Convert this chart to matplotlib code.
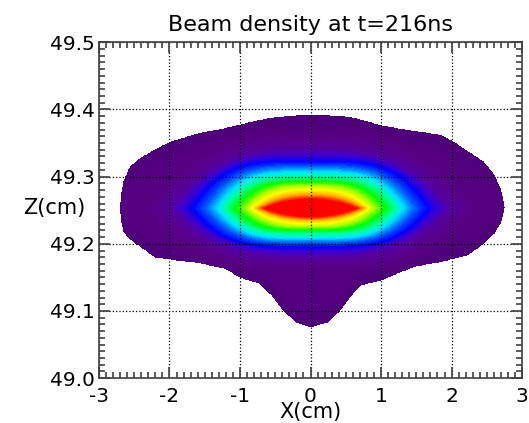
# Beam density map at t = 216 ns, filled contours in the X-Z plane.

# Import libraries
import numpy as np
import matplotlib
matplotlib.use("Agg")
import matplotlib.pyplot as plt
from matplotlib.colors import LinearSegmentedColormap
from matplotlib.ticker import MultipleLocator, FormatStrFormatter

# Beam envelope (outer edge of the density map), cm
x_edge = [-2.70, -2.66, -2.56, -2.40, -2.20, -2.00, -1.60, -1.20, -1.00, -0.72, -0.55, -0.39, -0.19,
          0.00, 0.23, 0.42, 0.56, 0.70, 1.00, 1.27, 1.50, 1.84, 2.02, 2.22, 2.45, 2.60, 2.70, 2.75]
z_top = [49.255, 49.290, 49.314, 49.328, 49.340, 49.351, 49.364, 49.372, 49.377, 49.384, 49.387, 49.389, 49.391,
         49.392, 49.391, 49.390, 49.388, 49.385, 49.376, 49.371, 49.367, 49.362, 49.352, 49.338, 49.322, 49.303, 49.280, 49.255]
z_bot = [49.252, 49.220, 49.207, 49.195, 49.180, 49.177, 49.172, 49.163, 49.150, 49.141, 49.124, 49.101, 49.083,
         49.076, 49.083, 49.101, 49.121, 49.138, 49.146, 49.158, 49.167, 49.173, 49.178, 49.183, 49.200, 49.215, 49.232, 49.254]

# Density levels of the core and their extents:
# half width along X at the beam centre, and height above / below it (cm)
z_center = 49.253
core_dens = [1.00, 0.94, 0.88, 0.80, 0.74, 0.67, 0.60, 0.53, 0.47, 0.40, 0.34, 0.27, 0.20, 0.10, 0.04, 0.00]
core_half_x = [0.00, 0.64, 0.71, 0.77, 0.82, 0.91, 1.05, 1.21, 1.31, 1.47, 1.66, 1.80, 1.98, 2.30, 2.60, 2.80]
core_up = [0.000, 0.013, 0.017, 0.022, 0.027, 0.033, 0.039, 0.046, 0.053, 0.061, 0.069, 0.077, 0.087, 0.106, 0.120, 0.130]
core_down = [0.000, 0.012, 0.015, 0.018, 0.022, 0.027, 0.032, 0.038, 0.044, 0.050, 0.057, 0.063, 0.073, 0.090, 0.102, 0.110]
# flatness of each density contour (exponent of the top edge)
core_shape = [2.0, 2.0, 2.2, 2.5, 2.8, 3.2, 3.6, 4.0, 4.0, 4.0, 4.0, 3.5, 3.0, 3.0, 3.0, 3.0]

# Low density halo filling the envelope
halo_amp = 0.07
halo_width = 0.03

# Colour table for the density
cmap_pos = [0.00, 0.12, 0.20, 0.27, 0.34, 0.40, 0.47, 0.53, 0.60, 0.67, 0.74, 0.84, 0.94, 1.00]
cmap_col = ["#4e0078", "#580088", "#5500a2", "#3800d4", "#0000ff", "#0064ff", "#00e6ff", "#00ffa0",
            "#00ff00", "#a8ff00", "#ffff00", "#ffa000", "#ff0000", "#ff0000"]
beam_cmap = LinearSegmentedColormap.from_list("beam", list(zip(cmap_pos, cmap_col)))

# Build the density field on a fine grid
x = np.linspace(-3, 3, 721)
z = np.linspace(49.0, 49.5, 601)
X, Z = np.meshgrid(x, z)
top = np.interp(X, x_edge, z_top, left = 0, right = 0)
bot = np.interp(X, x_edge, z_bot, left = 100, right = 100)
dist = np.minimum(top - Z, Z - bot)
dz = Z - z_center
ax_x = np.abs(X)

# Core: each point takes the highest level whose contour encloses it
core = np.zeros_like(X)
dens_inc = core_dens[::-1]
for lev in np.arange(0.005, 1.0, 0.005):
    w = np.interp(lev, dens_inc, core_half_x[::-1])
    hu = np.interp(lev, dens_inc, core_up[::-1])
    hd = np.interp(lev, dens_inc, core_down[::-1])
    m = np.interp(lev, dens_inc, core_shape[::-1])
    edge = 1 - np.clip(ax_x / w, 0, 1) ** m
    inside = np.where(dz >= 0, dz <= hu * edge, -dz <= hd * edge) & (ax_x < w)
    core[inside] = lev

halo = halo_amp * np.clip(dist / halo_width, 0, 1)
density = np.where(dist > 0, np.maximum(core, halo), np.nan)

# Plot
fig = plt.figure(figsize = (5.29, 4.23), dpi = 100)
ax = fig.add_axes([0.187, 0.106, 0.800, 0.794])
levels = np.linspace(-0.001, 1.0, 80)
ax.contourf(X, Z, density, levels = levels, cmap = beam_cmap)

ax.set_xlim(-3, 3)
ax.set_ylim(49.0, 49.5)
ax.xaxis.set_major_locator(MultipleLocator(1))
ax.xaxis.set_minor_locator(MultipleLocator(0.1))
ax.yaxis.set_major_locator(MultipleLocator(0.1))
ax.yaxis.set_minor_locator(MultipleLocator(0.01))
ax.yaxis.set_major_formatter(FormatStrFormatter("%.1f"))
ax.xaxis.set_major_formatter(FormatStrFormatter("%d"))
ax.tick_params(which = "both", direction = "in", top = True, right = True, color = "0.25")
ax.tick_params(which = "major", length = 8, width = 1.2, labelsize = 14.5)
ax.tick_params(axis = "x", which = "major", pad = 6.5)
ax.tick_params(axis = "y", which = "major", pad = 3)
ax.tick_params(which = "minor", length = 4, width = 1.2)
for s in ax.spines.values():
    s.set_linewidth(1.2)
    s.set_color("0.25")
ax.grid(True, which = "major", color = "k", linestyle = ":", linewidth = 0.9)

ax.set_title("Beam density at t=216ns", fontsize = 16, pad = 8)
ax.set_xlabel("X(cm)", fontsize = 15, labelpad = -3)
ax.set_ylabel("Z(cm)", fontsize = 15, rotation = 0, va = "center", ha = "center")
ax.yaxis.set_label_coords(-0.106, 0.506)

fig.savefig("out.png", dpi = 100)
